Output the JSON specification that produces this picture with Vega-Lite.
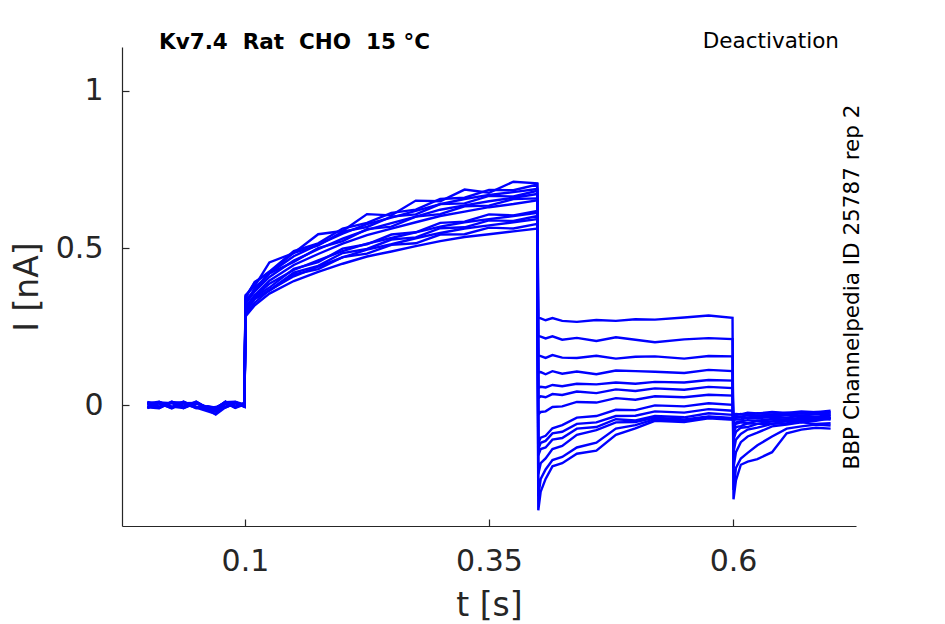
{
  "$schema": "https://vega.github.io/schema/vega-lite/v6.json",
  "width": 734,
  "height": 479,
  "autosize": "none",
  "padding": {"left": 122, "top": 47, "right": 89, "bottom": 98},
  "background": "white",
  "title": {
    "text": "Kv7.4\u00a0\u00a0Rat\u00a0\u00a0CHO\u00a0\u00a015\u00a0°C",
    "anchor": "start",
    "frame": "group",
    "fontSize": 21.5,
    "fontWeight": "bold",
    "color": "black",
    "dx": 37,
    "dy": 40,
    "offset": 0,
    "baseline": "alphabetic"
  },
  "data": {
    "values": [
      {"s":"A","t":0,"i":0.006},{"s":"A","t":0.012,"i":-0.008},{"s":"A","t":0.025,"i":0.011},{"s":"A","t":0.037,"i":-0.006},{"s":"A","t":0.05,"i":0.009},{"s":"A","t":0.062,"i":-0.011},{"s":"A","t":0.07,"i":-0.01},{"s":"A","t":0.08,"i":0.008},{"s":"A","t":0.09,"i":-0.007},{"s":"A","t":0.0995,"i":0.005},
      {"s":"A","t":0.1005,"i":0.35},{"s":"A","t":0.11,"i":0.379},{"s":"A","t":0.125,"i":0.454},{"s":"A","t":0.15,"i":0.484},{"s":"A","t":0.175,"i":0.544},{"s":"A","t":0.2,"i":0.554},{"s":"A","t":0.225,"i":0.608},{"s":"A","t":0.25,"i":0.604},{"s":"A","t":0.275,"i":0.651},{"s":"A","t":0.3,"i":0.649},{"s":"A","t":0.325,"i":0.686},{"s":"A","t":0.35,"i":0.676},{"s":"A","t":0.375,"i":0.711},{"s":"A","t":0.3995,"i":0.706},
      {"s":"A","t":0.4005,"i":0.278},{"s":"A","t":0.403,"i":0.276},{"s":"A","t":0.408,"i":0.27},{"s":"A","t":0.415,"i":0.277},{"s":"A","t":0.425,"i":0.268},{"s":"A","t":0.44,"i":0.265},{"s":"A","t":0.46,"i":0.271},{"s":"A","t":0.48,"i":0.268},{"s":"A","t":0.5,"i":0.273},{"s":"A","t":0.52,"i":0.272},{"s":"A","t":0.55,"i":0.279},{"s":"A","t":0.575,"i":0.285},{"s":"A","t":0.5995,"i":0.278},
      {"s":"A","t":0.6005,"i":-0.3},{"s":"A","t":0.603,"i":-0.24},{"s":"A","t":0.608,"i":-0.19},{"s":"A","t":0.615,"i":-0.18},{"s":"A","t":0.625,"i":-0.172},{"s":"A","t":0.64,"i":-0.15},{"s":"A","t":0.655,"i":-0.09},{"s":"A","t":0.67,"i":-0.078},{"s":"A","t":0.685,"i":-0.072},{"s":"A","t":0.7,"i":-0.075},

      {"s":"B","t":0,"i":-0.006},{"s":"B","t":0.012,"i":0.009},{"s":"B","t":0.025,"i":-0.007},{"s":"B","t":0.037,"i":0.01},{"s":"B","t":0.05,"i":-0.008},{"s":"B","t":0.062,"i":-0.02},{"s":"B","t":0.07,"i":-0.028},{"s":"B","t":0.08,"i":0.005},{"s":"B","t":0.09,"i":0.009},{"s":"B","t":0.0995,"i":-0.005},
      {"s":"B","t":0.1005,"i":0.345},{"s":"B","t":0.11,"i":0.39},{"s":"B","t":0.125,"i":0.425},{"s":"B","t":0.15,"i":0.49},{"s":"B","t":0.175,"i":0.515},{"s":"B","t":0.2,"i":0.562},{"s":"B","t":0.225,"i":0.58},{"s":"B","t":0.25,"i":0.612},{"s":"B","t":0.275,"i":0.622},{"s":"B","t":0.3,"i":0.656},{"s":"B","t":0.325,"i":0.66},{"s":"B","t":0.35,"i":0.685},{"s":"B","t":0.375,"i":0.684},{"s":"B","t":0.3995,"i":0.702},
      {"s":"B","t":0.4005,"i":0.22},{"s":"B","t":0.403,"i":0.218},{"s":"B","t":0.408,"i":0.212},{"s":"B","t":0.415,"i":0.219},{"s":"B","t":0.425,"i":0.208},{"s":"B","t":0.44,"i":0.214},{"s":"B","t":0.46,"i":0.204},{"s":"B","t":0.48,"i":0.216},{"s":"B","t":0.5,"i":0.208},{"s":"B","t":0.52,"i":0.2},{"s":"B","t":0.55,"i":0.209},{"s":"B","t":0.575,"i":0.213},{"s":"B","t":0.5995,"i":0.21},
      {"s":"B","t":0.6005,"i":-0.27},{"s":"B","t":0.603,"i":-0.2},{"s":"B","t":0.608,"i":-0.17},{"s":"B","t":0.615,"i":-0.152},{"s":"B","t":0.625,"i":-0.128},{"s":"B","t":0.64,"i":-0.1},{"s":"B","t":0.655,"i":-0.075},{"s":"B","t":0.67,"i":-0.068},{"s":"B","t":0.685,"i":-0.062},{"s":"B","t":0.7,"i":-0.065},

      {"s":"C","t":0,"i":0.01},{"s":"C","t":0.012,"i":-0.005},{"s":"C","t":0.025,"i":0.008},{"s":"C","t":0.037,"i":-0.01},{"s":"C","t":0.05,"i":0.006},{"s":"C","t":0.062,"i":-0.009},{"s":"C","t":0.07,"i":-0.012},{"s":"C","t":0.08,"i":0.011},{"s":"C","t":0.09,"i":-0.008},{"s":"C","t":0.0995,"i":0.007},
      {"s":"C","t":0.1005,"i":0.325},{"s":"C","t":0.11,"i":0.372},{"s":"C","t":0.125,"i":0.42},{"s":"C","t":0.15,"i":0.474},{"s":"C","t":0.175,"i":0.511},{"s":"C","t":0.2,"i":0.546},{"s":"C","t":0.225,"i":0.576},{"s":"C","t":0.25,"i":0.597},{"s":"C","t":0.275,"i":0.618},{"s":"C","t":0.3,"i":0.64},{"s":"C","t":0.325,"i":0.656},{"s":"C","t":0.35,"i":0.669},{"s":"C","t":0.375,"i":0.678},{"s":"C","t":0.3995,"i":0.688},
      {"s":"C","t":0.4005,"i":0.158},{"s":"C","t":0.403,"i":0.156},{"s":"C","t":0.408,"i":0.15},{"s":"C","t":0.415,"i":0.159},{"s":"C","t":0.425,"i":0.151},{"s":"C","t":0.44,"i":0.15},{"s":"C","t":0.46,"i":0.157},{"s":"C","t":0.48,"i":0.148},{"s":"C","t":0.5,"i":0.154},{"s":"C","t":0.52,"i":0.155},{"s":"C","t":0.55,"i":0.148},{"s":"C","t":0.575,"i":0.156},{"s":"C","t":0.5995,"i":0.155},
      {"s":"C","t":0.6005,"i":-0.2},{"s":"C","t":0.603,"i":-0.15},{"s":"C","t":0.608,"i":-0.118},{"s":"C","t":0.615,"i":-0.1},{"s":"C","t":0.625,"i":-0.088},{"s":"C","t":0.64,"i":-0.068},{"s":"C","t":0.655,"i":-0.062},{"s":"C","t":0.67,"i":-0.055},{"s":"C","t":0.685,"i":-0.06},{"s":"C","t":0.7,"i":-0.058},

      {"s":"D","t":0,"i":-0.009},{"s":"D","t":0.012,"i":0.006},{"s":"D","t":0.025,"i":-0.011},{"s":"D","t":0.037,"i":0.007},{"s":"D","t":0.05,"i":-0.005},{"s":"D","t":0.062,"i":-0.014},{"s":"D","t":0.07,"i":-0.03},{"s":"D","t":0.08,"i":-0.007},{"s":"D","t":0.09,"i":0.006},{"s":"D","t":0.0995,"i":-0.005},
      {"s":"D","t":0.1005,"i":0.34},{"s":"D","t":0.11,"i":0.392},{"s":"D","t":0.125,"i":0.422},{"s":"D","t":0.15,"i":0.485},{"s":"D","t":0.175,"i":0.508},{"s":"D","t":0.2,"i":0.552},{"s":"D","t":0.225,"i":0.567},{"s":"D","t":0.25,"i":0.6},{"s":"D","t":0.275,"i":0.607},{"s":"D","t":0.3,"i":0.64},{"s":"D","t":0.325,"i":0.642},{"s":"D","t":0.35,"i":0.666},{"s":"D","t":0.375,"i":0.664},{"s":"D","t":0.3995,"i":0.682},
      {"s":"D","t":0.4005,"i":0.104},{"s":"D","t":0.403,"i":0.105},{"s":"D","t":0.408,"i":0.098},{"s":"D","t":0.415,"i":0.108},{"s":"D","t":0.425,"i":0.1},{"s":"D","t":0.44,"i":0.107},{"s":"D","t":0.46,"i":0.098},{"s":"D","t":0.48,"i":0.11},{"s":"D","t":0.5,"i":0.108},{"s":"D","t":0.52,"i":0.106},{"s":"D","t":0.55,"i":0.102},{"s":"D","t":0.575,"i":0.112},{"s":"D","t":0.5995,"i":0.108},
      {"s":"D","t":0.6005,"i":-0.15},{"s":"D","t":0.603,"i":-0.11},{"s":"D","t":0.608,"i":-0.092},{"s":"D","t":0.615,"i":-0.078},{"s":"D","t":0.625,"i":-0.072},{"s":"D","t":0.64,"i":-0.06},{"s":"D","t":0.655,"i":-0.058},{"s":"D","t":0.67,"i":-0.05},{"s":"D","t":0.685,"i":-0.05},{"s":"D","t":0.7,"i":-0.042},

      {"s":"E","t":0,"i":0.005},{"s":"E","t":0.012,"i":0.011},{"s":"E","t":0.025,"i":-0.006},{"s":"E","t":0.037,"i":0.008},{"s":"E","t":0.05,"i":-0.01},{"s":"E","t":0.062,"i":-0.004},{"s":"E","t":0.07,"i":-0.008},{"s":"E","t":0.08,"i":0.009},{"s":"E","t":0.09,"i":0.011},{"s":"E","t":0.0995,"i":0.001},
      {"s":"E","t":0.1005,"i":0.322},{"s":"E","t":0.11,"i":0.362},{"s":"E","t":0.125,"i":0.408},{"s":"E","t":0.15,"i":0.46},{"s":"E","t":0.175,"i":0.496},{"s":"E","t":0.2,"i":0.53},{"s":"E","t":0.225,"i":0.558},{"s":"E","t":0.25,"i":0.579},{"s":"E","t":0.275,"i":0.6},{"s":"E","t":0.3,"i":0.622},{"s":"E","t":0.325,"i":0.636},{"s":"E","t":0.35,"i":0.649},{"s":"E","t":0.375,"i":0.66},{"s":"E","t":0.3995,"i":0.672},
      {"s":"E","t":0.4005,"i":0.055},{"s":"E","t":0.403,"i":0.058},{"s":"E","t":0.408,"i":0.056},{"s":"E","t":0.415,"i":0.064},{"s":"E","t":0.425,"i":0.06},{"s":"E","t":0.44,"i":0.068},{"s":"E","t":0.46,"i":0.066},{"s":"E","t":0.48,"i":0.072},{"s":"E","t":0.5,"i":0.068},{"s":"E","t":0.52,"i":0.074},{"s":"E","t":0.55,"i":0.072},{"s":"E","t":0.575,"i":0.08},{"s":"E","t":0.5995,"i":0.078},
      {"s":"E","t":0.6005,"i":-0.11},{"s":"E","t":0.603,"i":-0.085},{"s":"E","t":0.608,"i":-0.072},{"s":"E","t":0.615,"i":-0.07},{"s":"E","t":0.625,"i":-0.06},{"s":"E","t":0.64,"i":-0.06},{"s":"E","t":0.655,"i":-0.05},{"s":"E","t":0.67,"i":-0.054},{"s":"E","t":0.685,"i":-0.044},{"s":"E","t":0.7,"i":-0.046},

      {"s":"F","t":0,"i":-0.007},{"s":"F","t":0.012,"i":-0.01},{"s":"F","t":0.025,"i":0.009},{"s":"F","t":0.037,"i":-0.005},{"s":"F","t":0.05,"i":0.011},{"s":"F","t":0.062,"i":-0.01},{"s":"F","t":0.07,"i":-0.006},{"s":"F","t":0.08,"i":-0.006},{"s":"F","t":0.09,"i":0.008},{"s":"F","t":0.0995,"i":-0.006},
      {"s":"F","t":0.1005,"i":0.335},{"s":"F","t":0.11,"i":0.364},{"s":"F","t":0.125,"i":0.419},{"s":"F","t":0.15,"i":0.456},{"s":"F","t":0.175,"i":0.5},{"s":"F","t":0.2,"i":0.522},{"s":"F","t":0.225,"i":0.56},{"s":"F","t":0.25,"i":0.568},{"s":"F","t":0.275,"i":0.6},{"s":"F","t":0.3,"i":0.608},{"s":"F","t":0.325,"i":0.633},{"s":"F","t":0.35,"i":0.635},{"s":"F","t":0.375,"i":0.656},{"s":"F","t":0.3995,"i":0.658},
      {"s":"F","t":0.4005,"i":0.022},{"s":"F","t":0.403,"i":0.028},{"s":"F","t":0.408,"i":0.025},{"s":"F","t":0.415,"i":0.035},{"s":"F","t":0.425,"i":0.032},{"s":"F","t":0.44,"i":0.043},{"s":"F","t":0.46,"i":0.038},{"s":"F","t":0.48,"i":0.05},{"s":"F","t":0.5,"i":0.045},{"s":"F","t":0.52,"i":0.053},{"s":"F","t":0.55,"i":0.049},{"s":"F","t":0.575,"i":0.058},{"s":"F","t":0.5995,"i":0.054},
      {"s":"F","t":0.6005,"i":-0.09},{"s":"F","t":0.603,"i":-0.07},{"s":"F","t":0.608,"i":-0.067},{"s":"F","t":0.615,"i":-0.058},{"s":"F","t":0.625,"i":-0.06},{"s":"F","t":0.64,"i":-0.052},{"s":"F","t":0.655,"i":-0.052},{"s":"F","t":0.67,"i":-0.044},{"s":"F","t":0.685,"i":-0.048},{"s":"F","t":0.7,"i":-0.04},

      {"s":"G","t":0,"i":0.009},{"s":"G","t":0.012,"i":0.005},{"s":"G","t":0.025,"i":-0.009},{"s":"G","t":0.037,"i":0.011},{"s":"G","t":0.05,"i":-0.007},{"s":"G","t":0.062,"i":-0.007},{"s":"G","t":0.07,"i":-0.014},{"s":"G","t":0.08,"i":0.01},{"s":"G","t":0.09,"i":-0.005},{"s":"G","t":0.0995,"i":0.005},
      {"s":"G","t":0.1005,"i":0.312},{"s":"G","t":0.11,"i":0.35},{"s":"G","t":0.125,"i":0.396},{"s":"G","t":0.15,"i":0.446},{"s":"G","t":0.175,"i":0.481},{"s":"G","t":0.2,"i":0.514},{"s":"G","t":0.225,"i":0.541},{"s":"G","t":0.25,"i":0.562},{"s":"G","t":0.275,"i":0.582},{"s":"G","t":0.3,"i":0.602},{"s":"G","t":0.325,"i":0.616},{"s":"G","t":0.35,"i":0.63},{"s":"G","t":0.375,"i":0.64},{"s":"G","t":0.3995,"i":0.652},
      {"s":"G","t":0.4005,"i":-0.03},{"s":"G","t":0.403,"i":-0.022},{"s":"G","t":0.408,"i":-0.02},{"s":"G","t":0.415,"i":-0.006},{"s":"G","t":0.425,"i":-0.004},{"s":"G","t":0.44,"i":0.01},{"s":"G","t":0.46,"i":0.008},{"s":"G","t":0.48,"i":0.022},{"s":"G","t":0.5,"i":0.017},{"s":"G","t":0.52,"i":0.028},{"s":"G","t":0.55,"i":0.025},{"s":"G","t":0.575,"i":0.033},{"s":"G","t":0.5995,"i":0.03},
      {"s":"G","t":0.6005,"i":-0.07},{"s":"G","t":0.603,"i":-0.06},{"s":"G","t":0.608,"i":-0.055},{"s":"G","t":0.615,"i":-0.058},{"s":"G","t":0.625,"i":-0.05},{"s":"G","t":0.64,"i":-0.052},{"s":"G","t":0.655,"i":-0.045},{"s":"G","t":0.67,"i":-0.047},{"s":"G","t":0.685,"i":-0.04},{"s":"G","t":0.7,"i":-0.042},

      {"s":"H","t":0,"i":-0.005},{"s":"H","t":0.012,"i":0.008},{"s":"H","t":0.025,"i":0.006},{"s":"H","t":0.037,"i":-0.008},{"s":"H","t":0.05,"i":0.008},{"s":"H","t":0.062,"i":-0.015},{"s":"H","t":0.07,"i":-0.02},{"s":"H","t":0.08,"i":0.004},{"s":"H","t":0.09,"i":0.01},{"s":"H","t":0.0995,"i":-0.003},
      {"s":"H","t":0.1005,"i":0.302},{"s":"H","t":0.11,"i":0.344},{"s":"H","t":0.125,"i":0.374},{"s":"H","t":0.15,"i":0.434},{"s":"H","t":0.175,"i":0.455},{"s":"H","t":0.2,"i":0.498},{"s":"H","t":0.225,"i":0.512},{"s":"H","t":0.25,"i":0.543},{"s":"H","t":0.275,"i":0.55},{"s":"H","t":0.3,"i":0.58},{"s":"H","t":0.325,"i":0.584},{"s":"H","t":0.35,"i":0.607},{"s":"H","t":0.375,"i":0.604},{"s":"H","t":0.3995,"i":0.618},
      {"s":"H","t":0.4005,"i":-0.12},{"s":"H","t":0.403,"i":-0.104},{"s":"H","t":0.408,"i":-0.098},{"s":"H","t":0.415,"i":-0.074},{"s":"H","t":0.425,"i":-0.064},{"s":"H","t":0.44,"i":-0.04},{"s":"H","t":0.46,"i":-0.035},{"s":"H","t":0.48,"i":-0.015},{"s":"H","t":0.5,"i":-0.016},{"s":"H","t":0.52,"i":-0.001},{"s":"H","t":0.55,"i":-0.004},{"s":"H","t":0.575,"i":0.006},{"s":"H","t":0.5995,"i":0.001},
      {"s":"H","t":0.6005,"i":-0.06},{"s":"H","t":0.603,"i":-0.055},{"s":"H","t":0.608,"i":-0.052},{"s":"H","t":0.615,"i":-0.048},{"s":"H","t":0.625,"i":-0.05},{"s":"H","t":0.64,"i":-0.044},{"s":"H","t":0.655,"i":-0.046},{"s":"H","t":0.67,"i":-0.04},{"s":"H","t":0.685,"i":-0.042},{"s":"H","t":0.7,"i":-0.036},

      {"s":"I","t":0,"i":0.006},{"s":"I","t":0.012,"i":-0.009},{"s":"I","t":0.025,"i":0.01},{"s":"I","t":0.037,"i":0.005},{"s":"I","t":0.05,"i":-0.009},{"s":"I","t":0.062,"i":-0.005},{"s":"I","t":0.07,"i":-0.009},{"s":"I","t":0.08,"i":0.007},{"s":"I","t":0.09,"i":-0.009},{"s":"I","t":0.0995,"i":0.002},
      {"s":"I","t":0.1005,"i":0.306},{"s":"I","t":0.11,"i":0.346},{"s":"I","t":0.125,"i":0.386},{"s":"I","t":0.15,"i":0.43},{"s":"I","t":0.175,"i":0.461},{"s":"I","t":0.2,"i":0.49},{"s":"I","t":0.225,"i":0.514},{"s":"I","t":0.25,"i":0.532},{"s":"I","t":0.275,"i":0.55},{"s":"I","t":0.3,"i":0.568},{"s":"I","t":0.325,"i":0.582},{"s":"I","t":0.35,"i":0.592},{"s":"I","t":0.375,"i":0.602},{"s":"I","t":0.3995,"i":0.612},
      {"s":"I","t":0.4005,"i":-0.14},{"s":"I","t":0.403,"i":-0.12},{"s":"I","t":0.408,"i":-0.114},{"s":"I","t":0.415,"i":-0.09},{"s":"I","t":0.425,"i":-0.085},{"s":"I","t":0.44,"i":-0.06},{"s":"I","t":0.46,"i":-0.055},{"s":"I","t":0.48,"i":-0.035},{"s":"I","t":0.5,"i":-0.034},{"s":"I","t":0.52,"i":-0.02},{"s":"I","t":0.55,"i":-0.024},{"s":"I","t":0.575,"i":-0.013},{"s":"I","t":0.5995,"i":-0.018},
      {"s":"I","t":0.6005,"i":-0.05},{"s":"I","t":0.603,"i":-0.045},{"s":"I","t":0.608,"i":-0.046},{"s":"I","t":0.615,"i":-0.04},{"s":"I","t":0.625,"i":-0.042},{"s":"I","t":0.64,"i":-0.038},{"s":"I","t":0.655,"i":-0.04},{"s":"I","t":0.67,"i":-0.034},{"s":"I","t":0.685,"i":-0.037},{"s":"I","t":0.7,"i":-0.032},

      {"s":"J","t":0,"i":-0.008},{"s":"J","t":0.012,"i":0.007},{"s":"J","t":0.025,"i":-0.005},{"s":"J","t":0.037,"i":-0.009},{"s":"J","t":0.05,"i":0.01},{"s":"J","t":0.062,"i":-0.011},{"s":"J","t":0.07,"i":-0.016},{"s":"J","t":0.08,"i":-0.005},{"s":"J","t":0.09,"i":0.007},{"s":"J","t":0.0995,"i":-0.004},
      {"s":"J","t":0.1005,"i":0.298},{"s":"J","t":0.11,"i":0.338},{"s":"J","t":0.125,"i":0.366},{"s":"J","t":0.15,"i":0.422},{"s":"J","t":0.175,"i":0.443},{"s":"J","t":0.2,"i":0.484},{"s":"J","t":0.225,"i":0.497},{"s":"J","t":0.25,"i":0.527},{"s":"J","t":0.275,"i":0.534},{"s":"J","t":0.3,"i":0.563},{"s":"J","t":0.325,"i":0.566},{"s":"J","t":0.35,"i":0.588},{"s":"J","t":0.375,"i":0.586},{"s":"J","t":0.3995,"i":0.602},
      {"s":"J","t":0.4005,"i":-0.16},{"s":"J","t":0.403,"i":-0.14},{"s":"J","t":0.408,"i":-0.135},{"s":"J","t":0.415,"i":-0.11},{"s":"J","t":0.425,"i":-0.105},{"s":"J","t":0.44,"i":-0.075},{"s":"J","t":0.46,"i":-0.07},{"s":"J","t":0.48,"i":-0.045},{"s":"J","t":0.5,"i":-0.049},{"s":"J","t":0.52,"i":-0.035},{"s":"J","t":0.55,"i":-0.039},{"s":"J","t":0.575,"i":-0.026},{"s":"J","t":0.5995,"i":-0.031},
      {"s":"J","t":0.6005,"i":-0.045},{"s":"J","t":0.603,"i":-0.04},{"s":"J","t":0.608,"i":-0.038},{"s":"J","t":0.615,"i":-0.04},{"s":"J","t":0.625,"i":-0.034},{"s":"J","t":0.64,"i":-0.037},{"s":"J","t":0.655,"i":-0.032},{"s":"J","t":0.67,"i":-0.034},{"s":"J","t":0.685,"i":-0.028},{"s":"J","t":0.7,"i":-0.031},

      {"s":"K","t":0,"i":0.008},{"s":"K","t":0.012,"i":-0.006},{"s":"K","t":0.025,"i":0.007},{"s":"K","t":0.037,"i":0.009},{"s":"K","t":0.05,"i":-0.006},{"s":"K","t":0.062,"i":-0.008},{"s":"K","t":0.07,"i":-0.01},{"s":"K","t":0.08,"i":0.011},{"s":"K","t":0.09,"i":-0.006},{"s":"K","t":0.0995,"i":0.006},
      {"s":"K","t":0.1005,"i":0.288},{"s":"K","t":0.11,"i":0.326},{"s":"K","t":0.125,"i":0.366},{"s":"K","t":0.15,"i":0.41},{"s":"K","t":0.175,"i":0.441},{"s":"K","t":0.2,"i":0.47},{"s":"K","t":0.225,"i":0.495},{"s":"K","t":0.25,"i":0.512},{"s":"K","t":0.275,"i":0.531},{"s":"K","t":0.3,"i":0.548},{"s":"K","t":0.325,"i":0.562},{"s":"K","t":0.35,"i":0.572},{"s":"K","t":0.375,"i":0.582},{"s":"K","t":0.3995,"i":0.592},
      {"s":"K","t":0.4005,"i":-0.22},{"s":"K","t":0.403,"i":-0.185},{"s":"K","t":0.408,"i":-0.17},{"s":"K","t":0.415,"i":-0.14},{"s":"K","t":0.425,"i":-0.13},{"s":"K","t":0.44,"i":-0.095},{"s":"K","t":0.46,"i":-0.08},{"s":"K","t":0.48,"i":-0.055},{"s":"K","t":0.5,"i":-0.054},{"s":"K","t":0.52,"i":-0.04},{"s":"K","t":0.55,"i":-0.046},{"s":"K","t":0.575,"i":-0.036},{"s":"K","t":0.5995,"i":-0.041},
      {"s":"K","t":0.6005,"i":-0.04},{"s":"K","t":0.603,"i":-0.036},{"s":"K","t":0.608,"i":-0.037},{"s":"K","t":0.615,"i":-0.032},{"s":"K","t":0.625,"i":-0.034},{"s":"K","t":0.64,"i":-0.03},{"s":"K","t":0.655,"i":-0.032},{"s":"K","t":0.67,"i":-0.026},{"s":"K","t":0.685,"i":-0.029},{"s":"K","t":0.7,"i":-0.024},

      {"s":"L","t":0,"i":-0.01},{"s":"L","t":0.012,"i":0.01},{"s":"L","t":0.025,"i":-0.008},{"s":"L","t":0.037,"i":0.006},{"s":"L","t":0.05,"i":0.007},{"s":"L","t":0.062,"i":-0.013},{"s":"L","t":0.07,"i":-0.018},{"s":"L","t":0.08,"i":0.006},{"s":"L","t":0.09,"i":0.009},{"s":"L","t":0.0995,"i":-0.001},
      {"s":"L","t":0.1005,"i":0.296},{"s":"L","t":0.11,"i":0.339},{"s":"L","t":0.125,"i":0.364},{"s":"L","t":0.15,"i":0.416},{"s":"L","t":0.175,"i":0.433},{"s":"L","t":0.2,"i":0.471},{"s":"L","t":0.225,"i":0.482},{"s":"L","t":0.25,"i":0.51},{"s":"L","t":0.275,"i":0.515},{"s":"L","t":0.3,"i":0.543},{"s":"L","t":0.325,"i":0.544},{"s":"L","t":0.35,"i":0.565},{"s":"L","t":0.375,"i":0.562},{"s":"L","t":0.3995,"i":0.577},
      {"s":"L","t":0.4005,"i":-0.29},{"s":"L","t":0.403,"i":-0.235},{"s":"L","t":0.408,"i":-0.205},{"s":"L","t":0.415,"i":-0.175},{"s":"L","t":0.425,"i":-0.165},{"s":"L","t":0.44,"i":-0.135},{"s":"L","t":0.46,"i":-0.12},{"s":"L","t":0.48,"i":-0.075},{"s":"L","t":0.5,"i":-0.064},{"s":"L","t":0.52,"i":-0.045},{"s":"L","t":0.55,"i":-0.049},{"s":"L","t":0.575,"i":-0.038},{"s":"L","t":0.5995,"i":-0.043},
      {"s":"L","t":0.6005,"i":-0.035},{"s":"L","t":0.603,"i":-0.032},{"s":"L","t":0.608,"i":-0.028},{"s":"L","t":0.615,"i":-0.032},{"s":"L","t":0.625,"i":-0.026},{"s":"L","t":0.64,"i":-0.03},{"s":"L","t":0.655,"i":-0.024},{"s":"L","t":0.67,"i":-0.027},{"s":"L","t":0.685,"i":-0.022},{"s":"L","t":0.7,"i":-0.024},

      {"s":"M","t":0,"i":0.004},{"s":"M","t":0.012,"i":-0.007},{"s":"M","t":0.025,"i":0.009},{"s":"M","t":0.037,"i":-0.007},{"s":"M","t":0.05,"i":0.005},{"s":"M","t":0.062,"i":-0.006},{"s":"M","t":0.07,"i":-0.011},{"s":"M","t":0.08,"i":-0.008},{"s":"M","t":0.09,"i":0.005},{"s":"M","t":0.0995,"i":0.003},
      {"s":"M","t":0.1005,"i":0.282},{"s":"M","t":0.11,"i":0.318},{"s":"M","t":0.125,"i":0.355},{"s":"M","t":0.15,"i":0.395},{"s":"M","t":0.175,"i":0.424},{"s":"M","t":0.2,"i":0.45},{"s":"M","t":0.225,"i":0.473},{"s":"M","t":0.25,"i":0.489},{"s":"M","t":0.275,"i":0.506},{"s":"M","t":0.3,"i":0.522},{"s":"M","t":0.325,"i":0.535},{"s":"M","t":0.35,"i":0.544},{"s":"M","t":0.375,"i":0.553},{"s":"M","t":0.3995,"i":0.562},
      {"s":"M","t":0.4005,"i":-0.335},{"s":"M","t":0.403,"i":-0.275},{"s":"M","t":0.408,"i":-0.235},{"s":"M","t":0.415,"i":-0.195},{"s":"M","t":0.425,"i":-0.185},{"s":"M","t":0.44,"i":-0.155},{"s":"M","t":0.46,"i":-0.145},{"s":"M","t":0.48,"i":-0.095},{"s":"M","t":0.5,"i":-0.074},{"s":"M","t":0.52,"i":-0.05},{"s":"M","t":0.55,"i":-0.054},{"s":"M","t":0.575,"i":-0.042},{"s":"M","t":0.5995,"i":-0.047},
      {"s":"M","t":0.6005,"i":-0.03},{"s":"M","t":0.603,"i":-0.028},{"s":"M","t":0.608,"i":-0.03},{"s":"M","t":0.615,"i":-0.024},{"s":"M","t":0.625,"i":-0.027},{"s":"M","t":0.64,"i":-0.022},{"s":"M","t":0.655,"i":-0.025},{"s":"M","t":0.67,"i":-0.02},{"s":"M","t":0.685,"i":-0.023},{"s":"M","t":0.7,"i":-0.018}
    ]
  },
  "layer": [
    {
      "mark": {"type": "line", "color": "#0000ff", "strokeWidth": 2.4, "clip": true},
      "encoding": {
        "x": {
          "field": "t",
          "type": "quantitative",
          "scale": {"domain": [-0.026, 0.726], "nice": false, "zero": false},
          "axis": {
            "orient": "bottom",
            "values": [0.1, 0.35, 0.6],
            "labelExpr": "'' + datum.value",
            "title": "t [s]",
            "titleX": 367,
            "titleY": 89,
            "titleAlign": "center",
            "titleBaseline": "alphabetic",
            "labelPadding": 27
          }
        },
        "y": {
          "field": "i",
          "type": "quantitative",
          "scale": {"domain": [-0.385, 1.14], "nice": false, "zero": false},
          "axis": {
            "orient": "left",
            "values": [0, 0.5, 1],
            "labelExpr": "'' + datum.value",
            "title": "I [nA]",
            "titleAngle": 270,
            "titleX": -85,
            "titleY": 239.5,
            "titleAlign": "center",
            "titleBaseline": "alphabetic",
            "labelPadding": 26
          }
        },
        "detail": {"field": "s"}
      }
    },
    {
      "mark": {"type": "point", "opacity": 0},
      "encoding": {
        "x": {
          "field": "t",
          "type": "quantitative",
          "axis": {
            "orient": "top",
            "domain": false,
            "ticks": false,
            "labels": false,
            "title": "Deactivation",
            "titleFontSize": 21.5,
            "titleColor": "black",
            "titleX": 716.5,
            "titleY": 0,
            "titleAlign": "right",
            "titleBaseline": "alphabetic"
          }
        },
        "y": {
          "field": "i",
          "type": "quantitative",
          "axis": {
            "orient": "right",
            "domain": false,
            "ticks": false,
            "labels": false,
            "title": "BBP Channelpedia ID 25787 rep 2",
            "titleFontSize": 21.5,
            "titleColor": "black",
            "titleAngle": 270,
            "titleX": 2,
            "titleY": 239.5,
            "titleAlign": "center",
            "titleBaseline": "alphabetic"
          }
        }
      }
    }
  ],
  "resolve": {"axis": {"x": "independent", "y": "independent"}},
  "config": {
    "font": "DejaVu Sans",
    "view": {"stroke": null},
    "axis": {
      "grid": false,
      "domainColor": "#262626",
      "domainWidth": 1.2,
      "tickColor": "#262626",
      "tickWidth": 1.2,
      "tickSize": -7,
      "labelColor": "#262626",
      "labelFontSize": 30,
      "labelFlush": false,
      "labelOverlap": false,
      "labelBound": false,
      "titleColor": "#262626",
      "titleFontSize": 33,
      "titleFontWeight": "normal"
    }
  }
}
